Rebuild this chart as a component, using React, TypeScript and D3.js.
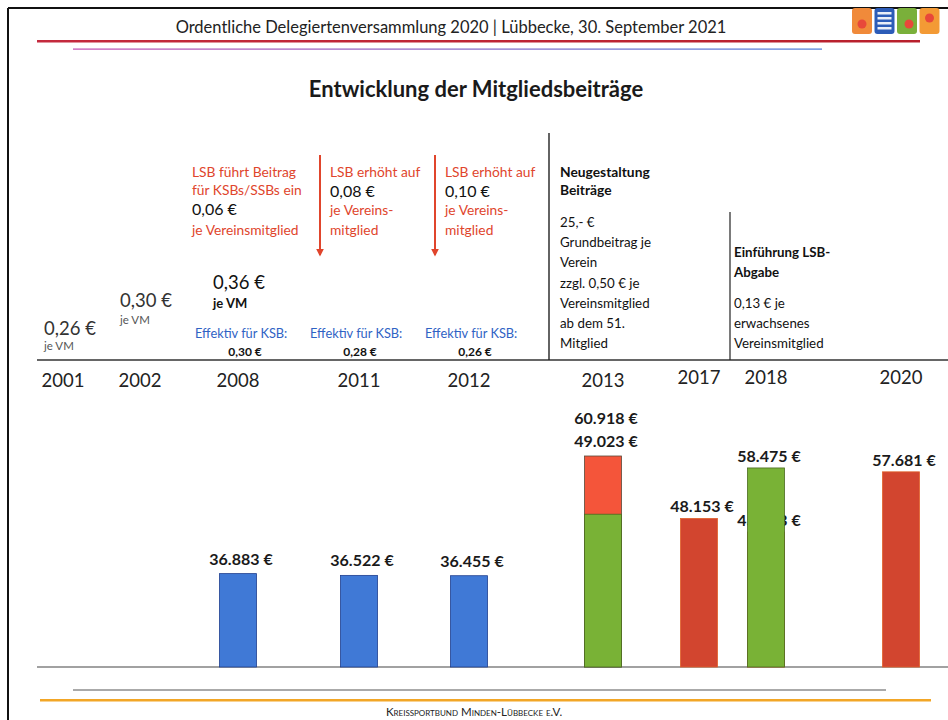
import { useRef, useEffect } from "react";
import * as d3 from "d3";

// timeline
const timelineYears = ["2001", "2002", "2008", "2011", "2012", "2013", "2017", "2018", "2020"];
const timelineX = [63, 140, 238, 359, 469, 603, 699, 766, 901];

// bar chart categories and series (€ per year)
const barYears = ["2008", "2011", "2012", "2013", "2017", "2018", "2020"];
const ksbOld = [36883, 36522, 36455, null, null, null, null];
const neuGreen = [null, null, null, 49023, null, 58475, null];
const totalOrange = [null, null, null, 60918, null, null, null];
const redBars = [null, null, null, null, 48153, 45383, 57681];

// early contributions
const earlyValues = ["0,26 €", "0,30 €"];
const earlyUnit = "je VM";

const colLsb = [
  ["LSB führt Beitrag", "für KSBs/SSBs ein"],
  ["LSB erhöht auf"],
  ["LSB erhöht auf"],
];
const colAmount = ["0,06 €", "0,08 €", "0,10 €"];
const colPer = [["je Vereinsmitglied"], ["je Vereins-", "mitglied"], ["je Vereins-", "mitglied"]];
const effektivLabel = "Effektiv für KSB:";
const effektivValues = ["0,30 €", "0,28 €", "0,26 €"];

const neuTitle = ["Neugestaltung", "Beiträge"];
const neuBody = ["25,- €", "Grundbeitrag je", "Verein", "zzgl. 0,50 € je", "Vereinsmitglied", "ab dem 51.", "Mitglied"];
const abgabeTitle = ["Einführung LSB-", "Abgabe"];
const abgabeBody = ["0,13 €  je", "erwachsenes", "Vereinsmitglied"];

const W = 948;
const H = 720;
const font = "Lato, 'Open Sans', sans-serif";
const RED_TXT = "#e0452c";
const BLUE_TXT = "#2f62c4";

const fmt = (v: number) => d3.format(",")(v).replace(/,/g, ".") + " €";

const App = () => {
  const ref = useRef<SVGSVGElement>(null);

  useEffect(() => {
    const svg = d3.select(ref.current);
    svg.selectAll("*").remove();

    const defs = svg.append("defs");
    defs.append("marker")
      .attr("id", "arr")
      .attr("viewBox", "0 0 10 10")
      .attr("refX", 8).attr("refY", 5)
      .attr("markerWidth", 4).attr("markerHeight", 4)
      .attr("orient", "auto")
      .append("path").attr("d", "M0,0 L10,5 L0,10 Z").attr("fill", RED_TXT);
    const grad = defs.append("linearGradient").attr("id", "purp");
    grad.append("stop").attr("offset", "0%").attr("stop-color", "#c04ab0");
    grad.append("stop").attr("offset", "100%").attr("stop-color", "#4a7ad8");
    const grad2 = defs.append("linearGradient").attr("id", "redl");
    grad2.append("stop").attr("offset", "0%").attr("stop-color", "#c42a3e");
    grad2.append("stop").attr("offset", "100%").attr("stop-color", "#b8202c");

    // frame
    svg.append("line").attr("x1", 8).attr("x2", W).attr("y1", 8).attr("y2", 8).attr("stroke", "#111").attr("stroke-width", 2);
    svg.append("line").attr("x1", 8).attr("x2", 8).attr("y1", 8).attr("y2", H).attr("stroke", "#111").attr("stroke-width", 2);

    // header
    svg.append("text").attr("x", 451).attr("y", 33).attr("text-anchor", "middle")
      .attr("font-family", font).attr("font-size", 16.5).attr("fill", "#222")
      .text("Ordentliche Delegiertenversammlung 2020 | Lübbecke, 30. September 2021");
    svg.append("rect").attr("x", 37).attr("y", 40).attr("width", 883).attr("height", 2.5).attr("fill", "url(#redl)");
    svg.append("rect").attr("x", 73).attr("y", 48.5).attr("width", 749).attr("height", 1.2).attr("fill", "url(#purp)");

    // logos
    const logoCols = ["#f08a3a", "#2c5cb8", "#7ab03a", "#f39a35"];
    logoCols.forEach((c, i) => {
      const x = 852 + i * 22.5;
      svg.append("rect").attr("x", x).attr("y", 8).attr("width", 20).attr("height", 26).attr("rx", 3).attr("fill", c);
      if (i === 1) {
        [12, 17, 22, 27].forEach(yy => svg.append("rect").attr("x", x + 3).attr("y", yy).attr("width", 14).attr("height", 2.5).attr("fill", "#e9eef8"));
      } else {
        svg.append("circle").attr("cx", x + 10 + (i === 2 ? 2 : 0)).attr("cy", i === 3 ? 18 : 24).attr("r", 4.5).attr("fill", "#e8483a");
      }
    });

    // title
    svg.append("text").attr("x", 476).attr("y", 97).attr("text-anchor", "middle")
      .attr("font-family", font).attr("font-size", 22).attr("font-weight", 700).attr("fill", "#1a1a1a")
      .text("Entwicklung der Mitgliedsbeiträge");

    // timeline
    const tx = d3.scaleOrdinal<string, number>().domain(timelineYears).range(timelineX);
    svg.append("line").attr("x1", 37).attr("x2", W).attr("y1", 360).attr("y2", 360).attr("stroke", "#333").attr("stroke-width", 1.3);
    svg.append("g").selectAll("text").data(timelineYears).join("text")
      .attr("x", d => tx(d)).attr("y", d => (["2017", "2018", "2020"].includes(d) ? 384 : 387))
      .attr("text-anchor", "middle").attr("font-family", font).attr("font-size", 18.5).attr("fill", "#222")
      .text(d => d);

    const txt = (x: number, y: number, s: string, size: number, fill: string, weight = 400, anchor = "start") =>
      svg.append("text").attr("x", x).attr("y", y).attr("font-family", font).attr("font-size", size)
        .attr("font-weight", weight).attr("fill", fill).attr("text-anchor", anchor).text(s);

    // early values
    txt(44, 335, earlyValues[0], 18.5, "#333");
    txt(44, 350, earlyUnit, 11.5, "#555");
    txt(120, 307, earlyValues[1], 18.5, "#333");
    txt(120, 324, earlyUnit, 11.5, "#555");

    // 2008/2011/2012 columns
    const colX = [192, 330, 445];
    colX.forEach((x, i) => {
      let y = 177;
      colLsb[i].forEach(s => { txt(x, y, s, 13.8, RED_TXT); y += 18; });
      y = i === 0 ? 215 : 197;
      txt(x, y, colAmount[i], 16, "#111");
      y = i === 0 ? 235 : 215;
      colPer[i].forEach(s => { txt(x, y, s, 13.8, RED_TXT); y += 20; });
    });
    txt(213, 289, "0,36 €", 18.5, "#111");
    txt(213, 308, earlyUnit, 13, "#111", 700);
    const effX = [195, 310, 425];
    effX.forEach((x, i) => {
      txt(x, 338, effektivLabel, 12.8, BLUE_TXT);
      txt(x + 50, 356, effektivValues[i], 12, "#111", 700, "middle");
    });
    [320, 435].forEach(x => {
      svg.append("line").attr("x1", x).attr("x2", x).attr("y1", 155).attr("y2", 255)
        .attr("stroke", RED_TXT).attr("stroke-width", 2).attr("marker-end", "url(#arr)");
    });

    // 2013 and 2018 notes
    svg.append("line").attr("x1", 549).attr("x2", 549).attr("y1", 133).attr("y2", 360).attr("stroke", "#222").attr("stroke-width", 1.4);
    svg.append("line").attr("x1", 730).attr("x2", 730).attr("y1", 212).attr("y2", 360).attr("stroke", "#222").attr("stroke-width", 1.2);
    neuTitle.forEach((s, i) => txt(560, 177 + i * 18, s, 13.8, "#111", 700));
    neuBody.forEach((s, i) => txt(560, 227 + i * 20.2, s, 13.3, "#111"));
    abgabeTitle.forEach((s, i) => txt(734, 257 + i * 20, s, 13.3, "#111", 700));
    abgabeBody.forEach((s, i) => txt(734, 308 + i * 20, s, 13.3, "#111"));

    // bar chart
    const base = 667;
    const y = d3.scaleLinear().domain([17800, 60918]).range([base, 456]);
    const bx = (d: string) => tx(d);
    const bw = 37;
    svg.append("line").attr("x1", 37).attr("x2", W).attr("y1", base).attr("y2", base).attr("stroke", "#444").attr("stroke-width", 1.2);

    const series = (vals: (number | null)[]) =>
      barYears.map((yr, i) => ({ yr, v: vals[i] })).filter(d => d.v != null) as { yr: string; v: number }[];

    const bars = (vals: (number | null)[], fill: string, stroke: string) =>
      svg.append("g").selectAll("rect").data(series(vals)).join("rect")
        .attr("x", d => bx(d.yr) - bw / 2).attr("width", bw)
        .attr("y", d => y(d.v)).attr("height", d => base - y(d.v))
        .attr("fill", fill).attr("stroke", stroke).attr("stroke-width", 0.8);

    const labels = (data: { yr: string; v: number }[], dyFn: (d: { yr: string; v: number }) => number) =>
      svg.append("g").selectAll("text").data(data).join("text")
        .attr("x", d => bx(d.yr) + 3).attr("y", dyFn)
        .attr("text-anchor", "middle").attr("font-family", font).attr("font-size", 16)
        .attr("font-weight", 700).attr("fill", "#1a1a1a").text(d => fmt(d.v));

    bars(totalOrange, "#f4553a", "#5a4a3a");
    bars(redBars, "#d2452f", "#e0602a");
    labels(series(redBars), d => y(d.v) - 6);
    bars(neuGreen, "#79b236", "#4a6a20");
    bars(ksbOld, "#4079d6", "#1f3f8f");
    labels(series(ksbOld), d => y(d.v) - 9);
    labels(series(totalOrange), d => y(d.v) - 32);
    labels(series(neuGreen), d => {
      const i = barYears.indexOf(d.yr);
      return totalOrange[i] != null ? y(totalOrange[i] as number) - 9 : y(d.v) - 6;
    });

    // footer
    svg.append("line").attr("x1", 73).attr("x2", 886).attr("y1", 690).attr("y2", 690).attr("stroke", "#555").attr("stroke-width", 1);
    svg.append("rect").attr("x", 40).attr("y", 699).attr("width", 891).attr("height", 2.5).attr("fill", "#f2a626");
    svg.append("text").attr("x", 474).attr("y", 716).attr("text-anchor", "middle")
      .attr("font-family", font).attr("font-size", 11.5).attr("font-variant", "small-caps").attr("fill", "#222")
      .text("Kreissportbund Minden-Lübbecke e.V.");
  }, []);

  return (
    <svg ref={ref} width={W} height={H} style={{ position: "absolute", left: 0, top: 0, background: "#fff" }} />
  );
};

export default App;
